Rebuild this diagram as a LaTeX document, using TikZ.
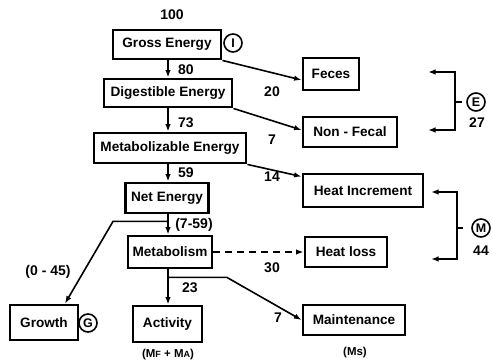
\documentclass[tikz,border=0pt]{standalone}
\usepackage{fontspec}
\setmainfont{Liberation Sans}
\usetikzlibrary{arrows.meta,calc}
\begin{document}
\begin{tikzpicture}[x=1pt,y=-1pt,
  box/.style={draw, line width=2.9pt, inner sep=0pt, font=\fontsize{13.6}{15}\selectfont\bfseries},
  lab/.style={font=\fontsize{14}{16}\selectfont\bfseries, inner sep=0pt},
  smalllab/.style={font=\fontsize{11.5}{13}\selectfont\bfseries, inner sep=0pt},
  tip/.tip={Latex[length=7.5pt,width=5.5pt]},
  conn/.style={line width=1.6pt, -tip},
  brk/.style={line width=1.9pt, tip-tip},
  ring/.style={draw, circle, line width=1.6pt, minimum size=18pt, inner sep=0pt, font=\fontsize{12.5}{14}\selectfont\bfseries}
]
\useasboundingbox (0,0) rectangle (493,363);

% boxes
\node[box, minimum width=108pt, minimum height=29pt] (gross) at (167,44.5) {Gross Energy};
\node[box, minimum width=128pt, minimum height=28pt] (dig) at (168,93) {Digestible Energy};
\node[box, minimum width=152pt, minimum height=30pt] (met) at (170,148) {Metabolizable Energy};
\node[box, minimum width=83pt, minimum height=30pt] (net) at (167,198) {Net Energy};
\node[box, minimum width=84pt, minimum height=32pt] (metab) at (170,252) {Metabolism};
\node[box, minimum width=68pt, minimum height=35pt] (growth) at (44,322.5) {Growth};
\node[box, minimum width=69pt, minimum height=36pt] (act) at (167.5,324) {Activity};
\node[box, minimum width=56pt, minimum height=32pt] (feces) at (331,74) {Feces};
\node[box, minimum width=94pt, minimum height=30pt] (nonf) at (350,132) {Non - Fecal};
\node[box, minimum width=120pt, minimum height=33pt] (hinc) at (363,190.5) {Heat Increment};
\node[box, minimum width=82pt, minimum height=30pt] (hloss) at (346,252) {Heat loss};
\node[box, minimum width=102pt, minimum height=30pt] (maint) at (354,320) {Maintenance};

% circled letters
\node[ring] (ci) at (233,43) {I};
\node[ring] (cg) at (88,323) {G};
\node[ring] (ce) at (476,102) {E};
\node[ring] (cm) at (481,228) {M};

% labels
\node[lab] (n100) at (172,15) {100};
\node[lab] (n80) at (186,70) {80};
\node[lab] (n73) at (186,123) {73};
\node[lab] (n59) at (186,173) {59};
\node[lab] (n759) at (194,225) {(7-59)};
\node[lab] (n045) at (48,272) {(0 - 45)};
\node[lab] (n23) at (190,288) {23};
\node[smalllab] (nmfma) at (168,355) {(M{\fontsize{9}{11}\selectfont F} + M{\fontsize{9}{11}\selectfont A})};
\node[lab] (n20) at (272,92) {20};
\node[lab] (n7a) at (272,140) {7};
\node[lab] (n14) at (272,177) {14};
\node[lab] (n30) at (272,268) {30};
\node[lab] (n7b) at (278,318) {7};
\node[smalllab] (nms) at (355,353) {(Ms)};
\node[lab] (n27) at (477,123) {27};
\node[lab] (n44) at (481,251) {44};

% main column
\coordinate (col) at (168,0);
\draw[conn] (gross.south -| col) -- (dig.north -| col);
\draw[conn] (dig.south -| col) -- (met.north -| col);
\draw[conn] (met.south -| col) -- (net.north -| col);
\draw[conn] (net.south -| col) -- (metab.north -| col);
\draw[conn] (metab.south -| col) -- (act.north -| col);

% growth branch
\coordinate (gsplit) at ($(net.south -| col)+(0,7)$);
\coordinate (gbend) at ($(gsplit)+(-55,0)$);
\draw[conn] (gsplit) -- (gbend) -- ([xshift=21pt]growth.north);

% maintenance branch
\coordinate (msplit) at ($(metab.south -| col)+(0,8)$);
\coordinate (mbend) at ($(msplit)+(59,0)$);
\draw[conn] (msplit) -- (mbend) -- (maint.west);

% losses
\draw[conn] (gross.south east) -- ([yshift=-6pt]feces.west);
\draw[conn] (dig.south east) -- ([yshift=2pt]nonf.west);
\draw[conn] (met.south east) -- ([yshift=-4pt]hinc.north west);
\draw[conn, dash pattern=on 7pt off 5pt] (metab.east) -- (hloss.west);

% bracket E
\coordinate (ea) at (428,72);
\coordinate (et) at (455,72);
\coordinate (eb) at (455,130);
\coordinate (ea2) at (428,130);
\coordinate (em) at (455,102);
\coordinate (et2) at (462,102);
\draw[brk] (ea) -- (et) -- (eb) -- (ea2);
\draw[line width=1.5pt] (em) -- (et2);

% bracket M
\coordinate (ma) at (431,192);
\coordinate (mt) at (457,192);
\coordinate (mb) at (457,259);
\coordinate (ma2) at (431,259);
\coordinate (mm) at (457,228);
\coordinate (mt2) at (463,228);
\draw[brk] (ma) -- (mt) -- (mb) -- (ma2);
\draw[line width=1.5pt] (mm) -- (mt2);
\end{tikzpicture}
\end{document}
